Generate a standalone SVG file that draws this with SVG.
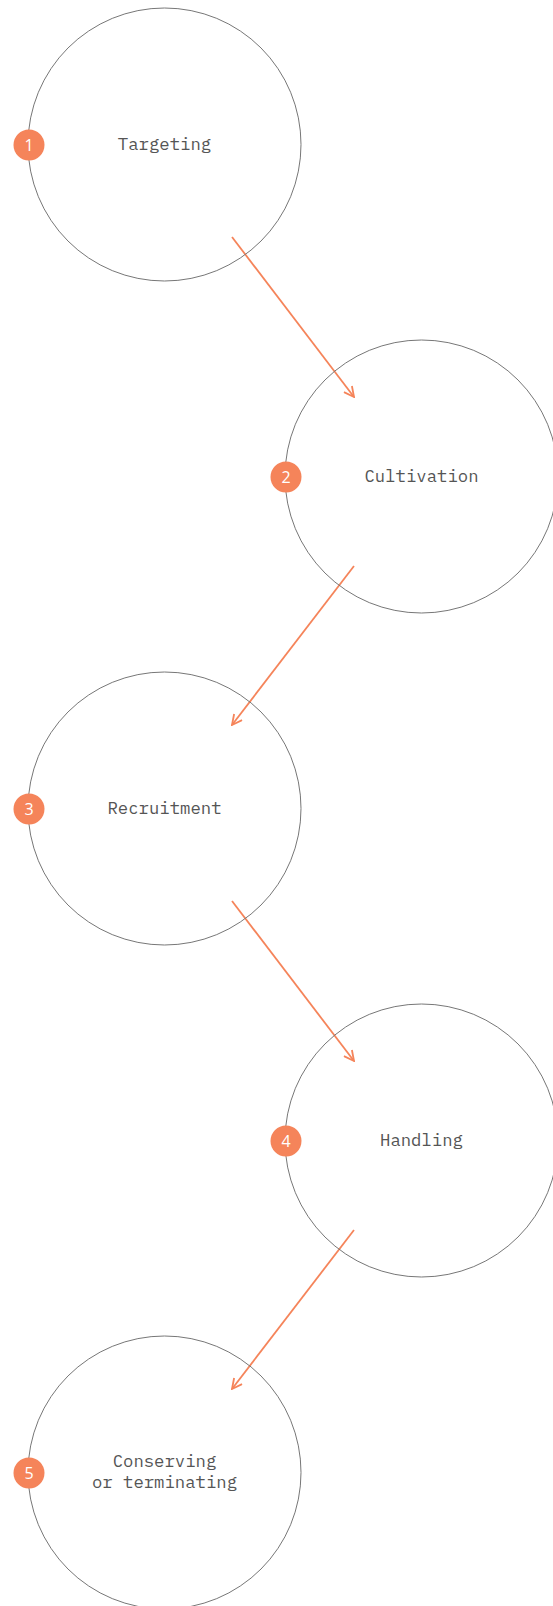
<svg xmlns="http://www.w3.org/2000/svg" width="553" height="1606" viewBox="0 0 553 1606">
<style>
.ring{fill:none;stroke:#777;stroke-width:1}
.lbl{font-family:"IBM Plex Mono","DejaVu Sans Mono","Liberation Mono",monospace;font-size:17.3px;fill:#555;text-anchor:middle}
.badge{fill:#F5845A}
.num{font-family:"Open Sans","Liberation Sans",sans-serif;font-size:16px;fill:#fff;text-anchor:middle}
.conn{stroke:#F5845A;stroke-width:1.8;fill:none;marker-end:url(#arr)}
</style>
<defs>
<marker id="arr" viewBox="0 0 12 12" refX="11" refY="6" markerWidth="12" markerHeight="12" markerUnits="userSpaceOnUse" orient="auto">
<path d="M1,1 L11,6 L1,11" fill="none" stroke="#F5845A" stroke-width="1.8"/>
</marker>
</defs>
<rect width="553" height="1606" fill="#fff"/>
<g id="connectors">
<line class="conn" x1="232" y1="237" x2="354" y2="397"/>
<line class="conn" x1="354" y1="566" x2="232" y2="725"/>
<line class="conn" x1="232" y1="901" x2="354" y2="1061"/>
<line class="conn" x1="354" y1="1230" x2="232" y2="1389"/>
</g>
<g id="node1">
<circle class="ring" cx="164.5" cy="144.5" r="136.5"/>
<text class="lbl" x="164.5" y="149.5">Targeting</text>
<circle class="badge" cx="29" cy="145" r="15.5"/>
<text class="num" x="29" y="150.5">1</text>
</g>
<g id="node2">
<circle class="ring" cx="421.5" cy="476.5" r="136.5"/>
<text class="lbl" x="421.5" y="481.5">Cultivation</text>
<circle class="badge" cx="286" cy="477" r="15.5"/>
<text class="num" x="286" y="482.5">2</text>
</g>
<g id="node3">
<circle class="ring" cx="164.5" cy="808.5" r="136.5"/>
<text class="lbl" x="164.5" y="813.5">Recruitment</text>
<circle class="badge" cx="29" cy="809" r="15.5"/>
<text class="num" x="29" y="814.5">3</text>
</g>
<g id="node4">
<circle class="ring" cx="421.5" cy="1140.5" r="136.5"/>
<text class="lbl" x="421.5" y="1145.5">Handling</text>
<circle class="badge" cx="286" cy="1141" r="15.5"/>
<text class="num" x="286" y="1146.5">4</text>
</g>
<g id="node5">
<circle class="ring" cx="164.5" cy="1472.5" r="136.5"/>
<text class="lbl" x="164.5" y="1466.5">Conserving</text>
<text class="lbl" x="164.5" y="1487.5">or terminating</text>
<circle class="badge" cx="29" cy="1473" r="15.5"/>
<text class="num" x="29" y="1478.5">5</text>
</g>
</svg>
